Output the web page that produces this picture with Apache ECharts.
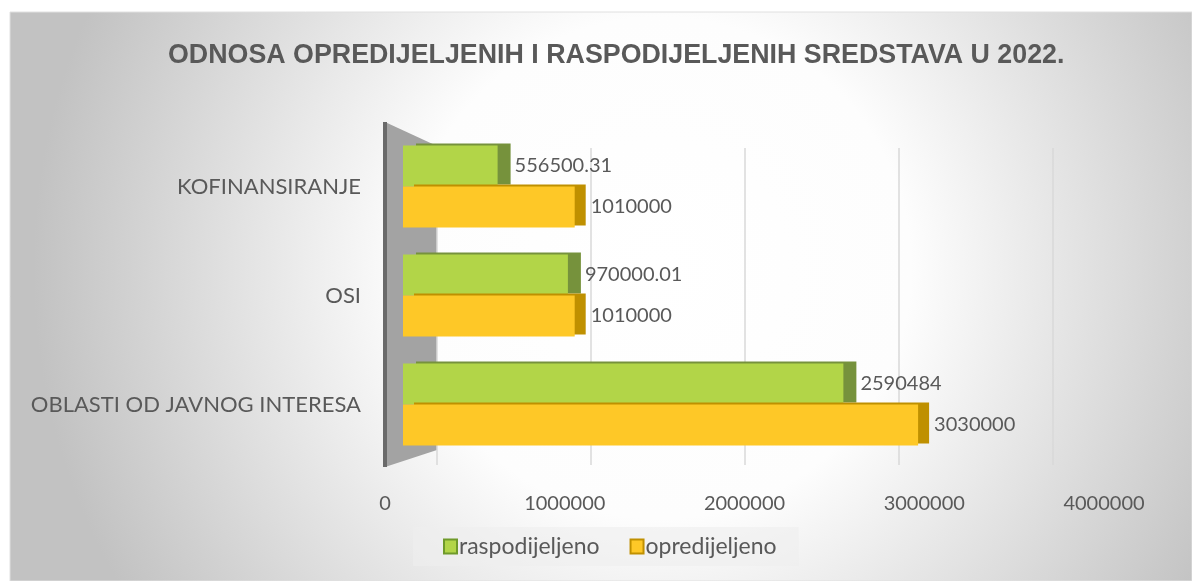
<!DOCTYPE html>
<html>
<head>
<meta charset="utf-8">
<script src="https://cdn.jsdelivr.net/npm/echarts@6/dist/echarts.min.js"></script>
<style>
  html, body { margin: 0; padding: 0; background: #fff; }
  #chart { width: 1192px; height: 581px; }
</style>
</head>
<body>
<div id="chart"></div>
<script>
// podaci
var categories = ['OBLASTI OD JAVNOG INTERESA', 'OSI', 'KOFINANSIRANJE'];
var raspodijeljeno = [2590484, 970000.01, 556500.31];
var opredijeljeno = [3030000, 1010000, 1010000];
var seriesNames = ['raspodijeljeno', 'opredijeljeno'];
var tickLabels = ['0', '1000000', '2000000', '3000000', '4000000'];

var textColor = '#595959';
var chart = echarts.init(document.getElementById('chart'));

var option = {
    animation: false,
    title: {
        text: 'ODNOSA OPREDIJELJENIH I RASPODIJELJENIH SREDSTAVA U 2022.',
        left: 163,
        top: 37,
        textStyle: {
            fontFamily: 'Liberation Sans',
            fontWeight: 'bold',
            fontSize: 26.8,
            color: textColor
        }
    },
    graphic: [
        {
            // pozadina
            type: 'rect',
            z: -10,
            shape: { x: 10, y: 12, width: 1182, height: 569 },
            style: {
                fill: new echarts.graphic.RadialGradient(0.55, 0.45, 1.1, [
                    { offset: 0, color: '#ffffff' },
                    { offset: 0.4, color: '#fdfdfd' },
                    { offset: 1, color: '#c2c2c2' }
                ]),
                stroke: '#e0e0e0',
                lineWidth: 1
            }
        },
        {
            // lijevi zid
            type: 'polygon',
            z: -5,
            shape: { points: [[385, 122], [437, 146], [437, 450], [385, 467]] },
            style: { fill: '#a3a3a3' }
        },
        {
            type: 'line',
            z: -4,
            shape: { x1: 385, y1: 122, x2: 385, y2: 467 },
            style: { stroke: '#6a6a6a', lineWidth: 4 }
        }
    ],
    legend: {
        data: [
            { name: seriesNames[0], itemStyle: { borderColor: '#6f9a2a', borderWidth: 2, shadowOffsetX: 0, shadowOffsetY: 0 } },
            { name: seriesNames[1], itemStyle: { borderColor: '#c09000', borderWidth: 2, shadowOffsetX: 0, shadowOffsetY: 0 } }
        ],
        left: 413,
        top: 527,
        padding: [8, 22, 8, 30],
        backgroundColor: 'rgba(238,238,238,0.6)',
        itemWidth: 13,
        itemHeight: 14,
        itemGap: 30,
        icon: 'rect',
        textStyle: { fontFamily: 'Lato', fontSize: 23, color: textColor, padding: [0, 0, 0, -3] }
    },
    grid: [
        { left: 403, width: 680, top: 132, height: 327 },
        { left: 437, width: 616, top: 148, height: 317 },
        { left: 385, width: 719, top: 132, height: 327 }
    ],
    xAxis: [
        {
            gridIndex: 0, type: 'value', min: 0, max: 4000000, interval: 1000000,
            axisLine: { show: false }, axisTick: { show: false },
            axisLabel: { show: false }, splitLine: { show: false }
        },
        {
            gridIndex: 1, type: 'value', min: 0, max: 4000000, interval: 1000000,
            axisLine: { show: false }, axisTick: { show: false }, axisLabel: { show: false },
            splitLine: { show: true, lineStyle: { color: '#d9d9d9', width: 1.5 } }
        },
        {
            gridIndex: 2, type: 'value', min: 0, max: 4000000, interval: 1000000,
            axisLine: { show: false }, axisTick: { show: false }, splitLine: { show: false },
            axisLabel: {
                margin: 35,
                fontFamily: 'Lato',
                fontSize: 20,
                color: textColor,
                formatter: function (v) { return tickLabels[Math.round(v / 1000000)]; }
            }
        }
    ],
    yAxis: [
        {
            gridIndex: 0, type: 'category', data: categories,
            axisLine: { show: false }, axisTick: { show: false },
            axisLabel: { margin: 42, fontFamily: 'Lato', fontSize: 22, color: textColor }
        },
        { gridIndex: 1, type: 'category', data: categories, show: false },
        { gridIndex: 2, type: 'category', data: categories, show: false }
    ],
    series: [
        {
            name: seriesNames[0],
            type: 'bar',
            xAxisIndex: 0, yAxisIndex: 0,
            data: raspodijeljeno,
            barWidth: 41,
            barGap: '0%',
            itemStyle: {
                color: '#b2d548',
                shadowColor: '#76923c',
                shadowBlur: 0,
                shadowOffsetX: 13,
                shadowOffsetY: -2
            },
            label: {
                show: true, position: 'right', distance: 17,
                fontFamily: 'Lato', fontSize: 20, color: textColor
            }
        },
        {
            name: seriesNames[1],
            type: 'bar',
            xAxisIndex: 0, yAxisIndex: 0,
            data: opredijeljeno,
            barWidth: 41,
            barGap: '0%',
            itemStyle: {
                color: '#fec827',
                shadowColor: '#bf9000',
                shadowBlur: 0,
                shadowOffsetX: 11,
                shadowOffsetY: -2
            },
            label: {
                show: true, position: 'right', distance: 16,
                fontFamily: 'Lato', fontSize: 20, color: textColor
            }
        }
    ]
};
chart.setOption(option);
</script>
</body>
</html>
